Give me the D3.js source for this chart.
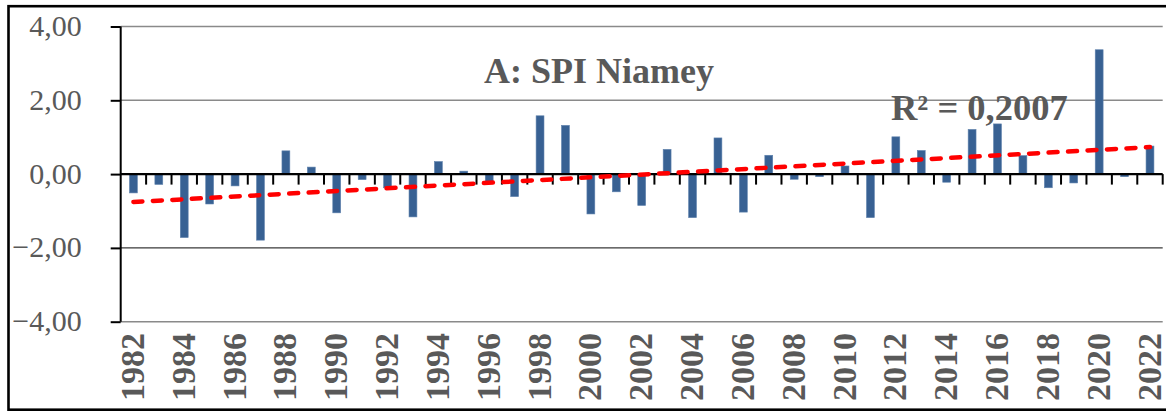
<!DOCTYPE html>
<html>
<head>
<meta charset="utf-8">
<script src="https://cdn.jsdelivr.net/npm/d3@7"></script>
<style>
  html, body { margin: 0; padding: 0; background: #fff; }
  svg { display: block; }
  svg text { font-family: "Liberation Serif", "Times New Roman", serif; }
</style>
</head>
<body>
<svg id="chart" width="1166" height="412"></svg>
<script>
// ---- data ----
const years = d3.range(1982, 2023);
const spi = [-0.51, -0.28, -1.72, -0.81, -0.32, -1.79, 0.63, 0.19, -1.05, -0.15,
             -0.37, -1.16, 0.34, 0.08, -0.20, -0.61, 1.58, 1.32, -1.08, -0.48,
             -0.85, 0.67, -1.18, 0.98, -1.03, 0.51, -0.14, -0.07, 0.22, -1.18,
             1.01, 0.64, -0.22, 1.21, 1.36, 0.50, -0.37, -0.24, 3.37, -0.07, 0.76];
const yTicks = [4, 2, 0, -2, -4];
const xLabelYears = years.filter(y => (y - 1982) % 2 === 0);
const titleText = "A: SPI Niamey";
const r2Text = "R² = 0,2007";

// ---- layout ----
const svg = d3.select("#chart");
const pL = 120.7, pR = 1162.7, pT = 26.5, pB = 321.7;
const grey = "#595959";
const FONT = '"Liberation Serif", "Times New Roman", serif';

const x = d3.scaleBand().domain(years).range([pL, pR]).padding(0);
const y = d3.scaleLinear().domain([-4, 4]).range([pB, pT]);
const fmt = v => d3.format(".2f")(v).replace(".", ",");

// outer frame
svg.append("rect").attr("x", 8.5).attr("y", 6.2).attr("width", 1175).attr("height", 403.5)
  .attr("fill", "none").attr("stroke", "#000").attr("stroke-width", 2.6);

// gridlines
svg.append("g").selectAll("line").data(yTicks.filter(v => v !== 0)).join("line")
  .attr("x1", pL).attr("x2", pR)
  .attr("y1", d => y(d)).attr("y2", d => y(d))
  .attr("stroke", d => d === -2 ? "#3a3a3a" : "#8a8a8a")
  .attr("stroke-width", d => d === -2 ? 1.2 : 1.5);

// y axis
const yAxis = svg.append("g").attr("transform", `translate(${pL},0)`)
  .call(d3.axisLeft(y).tickValues(yTicks).tickSize(10).tickPadding(29).tickFormat(fmt));
yAxis.attr("font-family", null).attr("font-size", null);
yAxis.select(".domain").attr("stroke", "#000").attr("stroke-width", 2)
  .attr("d", `M0,${y(4)}V${y(-4)}`);
yAxis.selectAll(".tick line").attr("stroke", "#000").attr("stroke-width", 2);
yAxis.selectAll(".tick text")
  .style("font-family", FONT)
  .style("font-size", "30px").attr("fill", grey).attr("dy", "0.3em");

// bars
const bw = x.bandwidth() * 0.31;
svg.append("g").selectAll("rect").data(years.map((yr, i) => ({yr, v: spi[i]}))).join("rect")
  .attr("x", d => x(d.yr) + x.bandwidth() / 2 - bw / 2)
  .attr("width", bw)
  .attr("y", d => y(Math.max(0, d.v)))
  .attr("height", d => Math.abs(y(d.v) - y(0)))
  .attr("fill", "#386193")
  .attr("stroke", "#5f82ad").attr("stroke-width", 0.6);

// zero axis with category ticks
svg.append("line").attr("x1", pL).attr("x2", pR).attr("y1", y(0)).attr("y2", y(0))
  .attr("stroke", "#000").attr("stroke-width", 2.4);
const bounds = years.map(yr => x(yr)).concat([pR]);
svg.append("g").selectAll("line").data(bounds.slice(1)).join("line")
  .attr("x1", d => d).attr("x2", d => d)
  .attr("y1", y(0)).attr("y2", y(0) + 10.5)
  .attr("stroke", "#000").attr("stroke-width", 2);

// x labels (every other year, rotated)
svg.append("g").selectAll("text").data(xLabelYears).join("text")
  .attr("transform", d => `translate(${x(d) + x.bandwidth() / 2 - 1},333) rotate(-90)`)
  .attr("text-anchor", "end").attr("dy", "0.34em")
  .style("font-family", FONT)
  .style("font-weight", "bold").style("font-size", "34px").attr("fill", grey)
  .text(d => d);

// linear trend
const xs = years.map((yr, i) => i);
const mx = d3.mean(xs), my = d3.mean(spi);
const slope = d3.sum(xs.map((v, i) => (v - mx) * (spi[i] - my))) / d3.sum(xs.map(v => (v - mx) ** 2));
const icpt = my - slope * mx;
const trend = [0, years.length - 1].map(i => ({yr: years[i], v: icpt + slope * i}));
svg.append("path").datum(trend)
  .attr("d", d3.line().x(d => x(d.yr) + x.bandwidth() / 2).y(d => y(d.v)))
  .attr("fill", "none").attr("stroke", "#ff0000").attr("stroke-width", 4.5)
  .attr("stroke-dasharray", "9,10.5").attr("stroke-linecap", "round");

// title and R²
svg.append("text").attr("x", 484).attr("y", 83)
  .style("font-family", FONT)
  .style("font-weight", "bold").style("font-size", "36px").attr("fill", grey)
  .text(titleText);
svg.append("text").attr("x", 891).attr("y", 120)
  .style("font-family", FONT)
  .style("font-weight", "bold").style("font-size", "36.5px").attr("fill", grey)
  .text(r2Text);
</script>
</body>
</html>
